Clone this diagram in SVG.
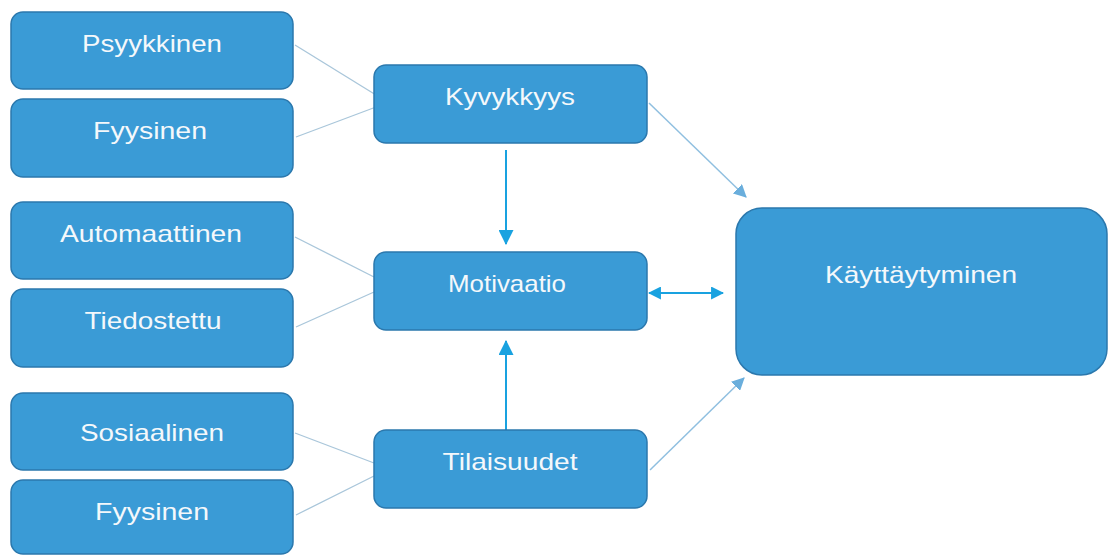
<svg xmlns="http://www.w3.org/2000/svg" width="1109" height="556" viewBox="0 0 1109 556">
<defs>
<style>
.box{fill:#3a9bd6;stroke:#2b78ad;stroke-width:1.5}
.lbl{font-family:"Liberation Sans",Arial,sans-serif;font-size:24px;fill:#f4f8fb;text-anchor:middle}
.gray{stroke:#a9c6da;stroke-width:1.3;fill:none}
.thin{stroke:#8fbfe0;stroke-width:1.5;fill:none}
.blue{stroke:#19a2e0;stroke-width:2;fill:none}
</style>
<marker id="ab" viewBox="0 0 14 14" refX="13" refY="7" markerWidth="15" markerHeight="15" markerUnits="userSpaceOnUse" orient="auto-start-reverse">
<path d="M0,0 L14,7 L0,14 z" fill="#19a2e0"/>
</marker>
<marker id="ad" viewBox="0 0 12 12" refX="11" refY="6" markerWidth="13" markerHeight="13" markerUnits="userSpaceOnUse" orient="auto-start-reverse">
<path d="M0,0 L12,6 L0,12 z" fill="#19a2e0"/>
</marker>
<marker id="at" viewBox="0 0 12 12" refX="11" refY="6" markerWidth="13" markerHeight="13" markerUnits="userSpaceOnUse" orient="auto">
<path d="M0,0 L12,6 L0,12 z" fill="#6aaedc"/>
</marker>
</defs>
<rect width="1109" height="556" fill="#ffffff"/>
<g id="connectors">
<line class="gray" x1="295" y1="45" x2="376" y2="95"/>
<line class="gray" x1="296" y1="137" x2="376" y2="107"/>
<line class="gray" x1="295" y1="237" x2="374" y2="277"/>
<line class="gray" x1="296" y1="327" x2="374" y2="292"/>
<line class="gray" x1="295" y1="433" x2="374" y2="463"/>
<line class="gray" x1="296" y1="515" x2="374" y2="476"/>
<line class="thin" x1="649" y1="103" x2="746" y2="197" marker-end="url(#at)"/>
<line class="thin" x1="650" y1="470" x2="744" y2="378" marker-end="url(#at)"/>
<line class="blue" x1="506" y1="150" x2="506" y2="244" marker-end="url(#ab)"/>
<line class="blue" x1="506" y1="430" x2="506" y2="341" marker-end="url(#ab)"/>
<line class="blue" x1="649" y1="293" x2="723" y2="293" marker-start="url(#ad)" marker-end="url(#ad)"/>
</g>
<g id="psyykkinen"><rect class="box" x="11" y="12" width="282" height="77" rx="12"/><text class="lbl" x="152" y="52" textLength="140" lengthAdjust="spacingAndGlyphs">Psyykkinen</text></g>
<g id="fyysinen1"><rect class="box" x="11" y="99" width="282" height="78" rx="12"/><text class="lbl" x="150" y="139" textLength="114" lengthAdjust="spacingAndGlyphs">Fyysinen</text></g>
<g id="automaattinen"><rect class="box" x="11" y="202" width="282" height="77" rx="12"/><text class="lbl" x="151" y="242" textLength="182" lengthAdjust="spacingAndGlyphs">Automaattinen</text></g>
<g id="tiedostettu"><rect class="box" x="11" y="289" width="282" height="78" rx="12"/><text class="lbl" x="153" y="329" textLength="137" lengthAdjust="spacingAndGlyphs">Tiedostettu</text></g>
<g id="sosiaalinen"><rect class="box" x="11" y="393" width="282" height="77" rx="12"/><text class="lbl" x="152" y="441" textLength="144" lengthAdjust="spacingAndGlyphs">Sosiaalinen</text></g>
<g id="fyysinen2"><rect class="box" x="11" y="480" width="282" height="74" rx="12"/><text class="lbl" x="152" y="520" textLength="114" lengthAdjust="spacingAndGlyphs">Fyysinen</text></g>
<g id="kyvykkyys"><rect class="box" x="374" y="65" width="273" height="78" rx="12"/><text class="lbl" x="510" y="105" textLength="130" lengthAdjust="spacingAndGlyphs">Kyvykkyys</text></g>
<g id="motivaatio"><rect class="box" x="374" y="252" width="273" height="78" rx="12"/><text class="lbl" x="507" y="292" textLength="118" lengthAdjust="spacingAndGlyphs">Motivaatio</text></g>
<g id="tilaisuudet"><rect class="box" x="374" y="430" width="273" height="78" rx="12"/><text class="lbl" x="510" y="470" textLength="135" lengthAdjust="spacingAndGlyphs">Tilaisuudet</text></g>
<g id="kayttaytyminen"><rect class="box" x="736" y="208" width="371" height="167" rx="26"/><text class="lbl" x="921" y="283" textLength="192" lengthAdjust="spacingAndGlyphs">Käyttäytyminen</text></g>
</svg>
